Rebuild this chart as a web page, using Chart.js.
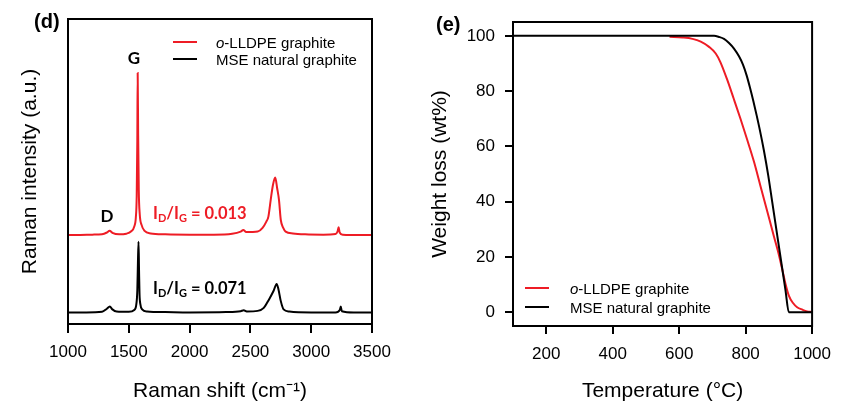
<!DOCTYPE html>
<html lang="en">
<head>
<meta charset="UTF-8">
<title>Raman spectra and TGA</title>
<script src="https://cdn.jsdelivr.net/npm/chart.js@4"></script>
<style>
  * { margin: 0; padding: 0; box-sizing: border-box; }
  body { width: 841px; height: 401px; background: #fff; position: relative; overflow: hidden; font-family: 'Liberation Sans', Arial, sans-serif; color: #000; }
  canvas { position: absolute; top: 0; }
  #raman { left: 0; }
  #tga { left: 420px; }
  .lbl { position: absolute; white-space: nowrap; line-height: 1; transform: translateY(-50%); }
  .panel { font: bold 20px 'Liberation Sans', Arial, sans-serif; }
  .peak { font: bold 17px Lato, sans-serif; transform: translate(-50%, -50%); }
  .ratio { font: bold 16.5px Lato, sans-serif; }
  .ratio sub { font-size: 11px; line-height: 0; vertical-align: -3px; }
  .red { color: #ee1c25; }
  .key { position: absolute; width: 24px; height: 2px; }
  .leg { font-size: 15px; }
</style>
</head>
<body>
  <canvas id="raman" width="420" height="401"></canvas>
  <canvas id="tga" width="421" height="401"></canvas>

  <div class="lbl panel" style="left:34px; top:21px">(d)</div>
  <div class="lbl panel" style="left:436px; top:24px">(e)</div>

  <div class="lbl peak" style="left:134px; top:57px">G</div>
  <div class="lbl peak" style="left:107px; top:215px">D</div>
  <div class="lbl ratio red" style="left:153px; top:213px">I<sub>D</sub>/I<sub>G</sub> = 0.013</div>
  <div class="lbl ratio" style="left:153px; top:288px">I<sub>D</sub>/I<sub>G</sub> = 0.071</div>

  <div class="key" style="left:173px; top:41px; background:#ee1c25"></div>
  <div class="lbl leg" style="left:216px; top:42px"><i>o</i>-LLDPE graphite</div>
  <div class="key" style="left:173px; top:58px; background:#000"></div>
  <div class="lbl leg" style="left:216px; top:59px">MSE natural graphite</div>

  <div class="key" style="left:525px; top:287px; background:#ee1c25"></div>
  <div class="lbl leg" style="left:570px; top:288px"><i>o</i>-LLDPE graphite</div>
  <div class="key" style="left:525px; top:306px; background:#000"></div>
  <div class="lbl leg" style="left:570px; top:307px">MSE natural graphite</div>

<script>
// Raman (d): shift in cm-1, intensity in arbitrary units (offset traces)
const redShift = [1000, 1100, 1200, 1280, 1320, 1342, 1365, 1420, 1480, 1520, 1545, 1558, 1565, 1570, 1573, 1577, 1582, 1590, 1605, 1630, 1680, 1800, 2000, 2200, 2350, 2420, 2442, 2465, 2520, 2560, 2600, 2630, 2648, 2667, 2685, 2704, 2720, 2735, 2750, 2770, 2790, 2850, 2950, 3100, 3200, 3218, 3225, 3234, 3260, 3400, 3500];
const redIntensity = [29.2, 29.2, 29.3, 29.4, 30.0, 30.6, 29.9, 29.4, 29.6, 30.4, 32, 35, 42, 60, 82.3, 62, 44, 36, 32.5, 30.5, 29.7, 29.4, 29.3, 29.3, 29.6, 30.3, 30.8, 30.2, 30.2, 30.3, 31.5, 33.5, 35.2, 40.7, 45.5, 48, 44.5, 40.7, 34.1, 31.5, 30.3, 29.7, 29.4, 29.3, 29.5, 30.5, 31.7, 30, 29.3, 29.2, 29.2];
const blackShift = [1000, 1150, 1280, 1320, 1344, 1365, 1400, 1500, 1545, 1562, 1570, 1575, 1580, 1584, 1588, 1595, 1610, 1650, 1800, 2000, 2300, 2420, 2445, 2470, 2560, 2610, 2651, 2690, 2716, 2730, 2750, 2773, 2820, 3000, 3200, 3235, 3243, 3252, 3350, 3500];
const blackIntensity = [3.8, 3.8, 4.0, 5.0, 5.7, 4.8, 4.1, 4.0, 4.6, 6.5, 11, 20, 27, 18, 10, 6.5, 4.8, 4.1, 3.9, 3.8, 3.9, 4.2, 4.5, 4.1, 4.3, 5.3, 7.9, 10.8, 13.1, 11.5, 7.5, 4.8, 4.1, 3.8, 3.8, 4.6, 5.7, 4.2, 3.8, 3.8];
const ramanTicks = [1000, 1500, 2000, 2500, 3000, 3500];

// TGA (e): temperature in C, weight in wt%
const redTemp = [571, 610, 640, 665, 690, 710, 724, 744, 764, 785, 805, 825, 845, 865, 885, 900, 912, 920, 930, 942, 955, 971, 985, 1000];
const redWeight = [99.7, 99.4, 98.9, 97.9, 96.0, 93.6, 90.5, 84.3, 77.3, 69.8, 62.3, 54.5, 45.5, 36.5, 27.5, 20.8, 14.5, 10.2, 6, 3.4, 1.8, 0.9, 0.3, 0.1];
const blackTemp = [100, 690, 705, 720, 735, 750, 765, 780, 792, 803, 813, 823, 833, 843, 855, 868, 880, 895, 910, 920, 930, 1000];
const blackWeight = [100, 100, 100, 99.6, 98.9, 97.4, 95.4, 92.6, 89.6, 85.7, 81.3, 76.5, 71.3, 65.8, 58.5, 49.5, 39.9, 27.9, 15.9, 7.9, 0, 0];
const tempTicks = [200, 400, 600, 800, 1000];
const weightTicks = [0, 20, 40, 60, 80, 100];

const RED = '#ee1c25';
const FONT = "'Liberation Sans', Arial, sans-serif";

function pts(xs, ys) {
  return xs.map((x, i) => ({ x, y: ys[i] }));
}

// box around the plot area
const frame = {
  id: 'frame',
  afterDatasetsDraw(chart) {
    const { ctx, chartArea: a } = chart;
    ctx.save();
    ctx.strokeStyle = '#000';
    ctx.lineWidth = 2;
    ctx.strokeRect(a.left, a.top, a.right - a.left, a.bottom - a.top);
    ctx.restore();
  }
};

function line(data, color, order) {
  return { data, borderColor: color, borderWidth: 2, pointRadius: 0, cubicInterpolationMode: 'monotone', order };
}

function tickGrid(len) {
  return { display: true, drawOnChartArea: false, drawTicks: true, tickLength: len, color: '#000', lineWidth: 2 };
}

function tickFont(pad) {
  return { color: '#000', font: { family: FONT, size: 17 }, padding: pad, maxRotation: 0, autoSkip: false, callback: v => String(v) };
}

function axisTitle(text, pad) {
  return { display: true, text, color: '#000', font: { family: FONT, size: 21 }, padding: pad };
}

const common = {
  responsive: false,
  animation: false,
  devicePixelRatio: 1,
  plugins: { legend: { display: false }, tooltip: { enabled: false } }
};

new Chart(document.getElementById('raman'), {
  type: 'line',
  data: { datasets: [
    line(pts(redShift, redIntensity), RED, 1),
    line(pts(blackShift, blackIntensity), '#000', 0)
  ] },
  options: {
    ...common,
    layout: { padding: { top: 19, right: 48, left: 0, bottom: 0 } },
    scales: {
      x: {
        type: 'linear', min: 1000, max: 3500,
        afterBuildTicks: s => { s.ticks = ramanTicks.map(v => ({ value: v })); },
        afterFit: s => { s.height = 77; },
        grid: tickGrid(9),
        border: { display: false },
        ticks: tickFont(9),
        title: axisTitle('Raman shift (cm\u207B\u00B9)', { top: 0, bottom: -3 })
      },
      y: {
        type: 'linear', min: 0, max: 100,
        afterFit: s => { s.width = 68; },
        grid: { display: false },
        border: { display: false },
        ticks: { display: false },
        title: axisTitle('Raman intensity (a.u.)', { top: 18, bottom: 0 })
      }
    }
  },
  plugins: [frame]
});

new Chart(document.getElementById('tga'), {
  type: 'line',
  data: { datasets: [
    line(pts(redTemp, redWeight), RED, 1),
    line(pts(blackTemp, blackWeight), '#000', 0)
  ] },
  options: {
    ...common,
    layout: { padding: { top: 22, right: 23, left: 0, bottom: 0 } },
    scales: {
      x: {
        type: 'linear', min: 100, max: 1000,
        afterBuildTicks: s => { s.ticks = tempTicks.map(v => ({ value: v })); },
        afterFit: s => { s.height = 75; },
        grid: tickGrid(8),
        border: { display: false },
        ticks: tickFont(10),
        title: axisTitle('Temperature (\u00B0C)', { top: 0, bottom: -3 })
      },
      y: {
        type: 'linear', min: -5, max: 105,
        afterBuildTicks: s => { s.ticks = weightTicks.map(v => ({ value: v })); },
        afterFit: s => { s.width = 93; },
        grid: tickGrid(8),
        border: { display: false },
        ticks: tickFont(10),
        title: axisTitle('Weight loss (wt%)', { top: 8, bottom: 0 })
      }
    }
  },
  plugins: [frame]
});
</script>
</body>
</html>
